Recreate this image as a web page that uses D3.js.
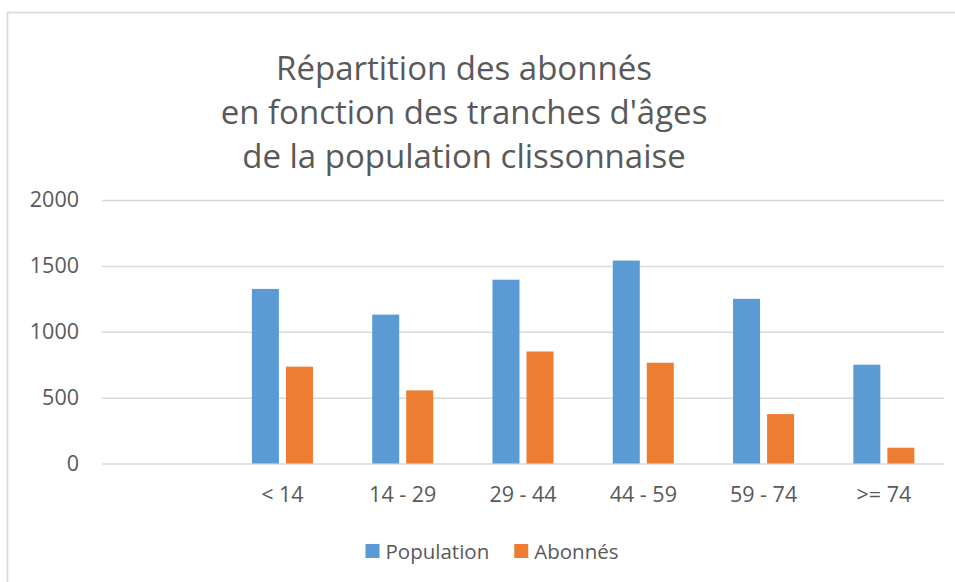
<!DOCTYPE html>
<html>
<head>
<meta charset="utf-8">
<script src="https://cdn.jsdelivr.net/npm/d3@7"></script>
<style>
  body { margin: 0; background: #fff; }
  svg { display: block; font-family: "Open Sans", "Noto Sans", sans-serif; }
</style>
</head>
<body>
<svg id="chart" width="955" height="582"></svg>
<script>
// data
const categories = ["", "< 14", "14 - 29", "29 - 44", "44 - 59", "59 - 74", ">= 74"];
const seriesNames = ["Population", "Abonnés"];
const population = [null, 1325, 1130, 1395, 1540, 1250, 750];
const abonnes = [null, 735, 555, 850, 765, 375, 120];
const yTicks = [0, 500, 1000, 1500, 2000];
const titleLines = ["Répartition des abonnés", "en fonction des tranches d'âges", "de la population clissonnaise"];

const colors = { "Population": "#5B9BD5", "Abonnés": "#ED7D31" };
const textColor = "#595959";
const gridColor = "#d9d9d9";

const svg = d3.select("#chart");
const W = 955, H = 582;
const margin = { left: 102, right: 11, top: 200, bottom: 118.5 };

// chart frame (right/bottom edges run off the picture)
svg.append("rect")
  .attr("x", 7.5).attr("y", 12.5)
  .attr("width", W + 10).attr("height", H + 10)
  .attr("fill", "none")
  .attr("stroke", gridColor)
  .attr("stroke-width", 1.75);

// title
const title = svg.append("text")
  .attr("text-anchor", "middle")
  .attr("fill", textColor)
  .style("font-size", "33px");
titleLines.forEach((l, i) => {
  title.append("tspan").attr("x", 464).attr("y", 80 + i * 44).text(l);
});

const x = d3.scaleBand()
  .domain(categories)
  .range([margin.left, W - margin.right]);

const xSub = d3.scaleBand()
  .domain(seriesNames)
  .range([0, x.bandwidth()])
  .paddingInner(0.206)
  .paddingOuter(0.87);

const y = d3.scaleLinear()
  .domain([0, 2000])
  .range([H - margin.bottom, margin.top]);

// y axis with gridlines
const yAxis = svg.append("g")
  .attr("transform", `translate(${margin.left},0)`)
  .call(d3.axisLeft(y).tickValues(yTicks)
    .tickFormat(d3.format("d"))
    .tickSize(-(W - margin.left - margin.right))
    .tickPadding(23));
yAxis.select(".domain").remove();
yAxis.selectAll(".tick line").attr("stroke", gridColor).attr("stroke-width", 1.5);
yAxis.selectAll(".tick text")
  .attr("fill", textColor)
  .style("font-size", "21.5px")
  .style("font-family", "'Open Sans', sans-serif");

// bars
const rows = categories.map((c, i) => ({ cat: c, values: [population[i], abonnes[i]] }));
const groups = svg.append("g").selectAll("g")
  .data(rows)
  .join("g")
  .attr("transform", d => `translate(${x(d.cat)},0)`);

groups.selectAll("rect")
  .data(d => d.values.map((v, j) => ({ name: seriesNames[j], value: v })).filter(e => e.value != null))
  .join("rect")
  .attr("x", d => xSub(d.name))
  .attr("width", xSub.bandwidth())
  .attr("y", d => y(d.value))
  .attr("height", d => y(0) - y(d.value))
  .attr("fill", d => colors[d.name]);

// x axis labels
const xAxis = svg.append("g")
  .attr("transform", `translate(0,${y(0)})`)
  .call(d3.axisBottom(x).tickSize(0).tickPadding(23.5));
xAxis.select(".domain").remove();
xAxis.selectAll(".tick text")
  .attr("fill", textColor)
  .style("font-size", "21.5px")
  .style("font-family", "'Open Sans', sans-serif");

// legend
const legend = svg.append("g");
let lx = 0;
seriesNames.forEach(name => {
  const item = legend.append("g").attr("transform", `translate(${lx},0)`);
  item.append("rect")
    .attr("x", 0).attr("y", 544)
    .attr("width", 14).attr("height", 14)
    .attr("fill", colors[name]);
  const t = item.append("text")
    .attr("x", 20).attr("y", 558.5)
    .attr("fill", textColor)
    .style("font-size", "20.5px")
    .text(name);
  lx += 20 + t.node().getComputedTextLength() + 25;
});
const legendWidth = lx - 25;
legend.attr("transform", `translate(${492 - legendWidth / 2},0)`);
</script>
</body>
</html>
